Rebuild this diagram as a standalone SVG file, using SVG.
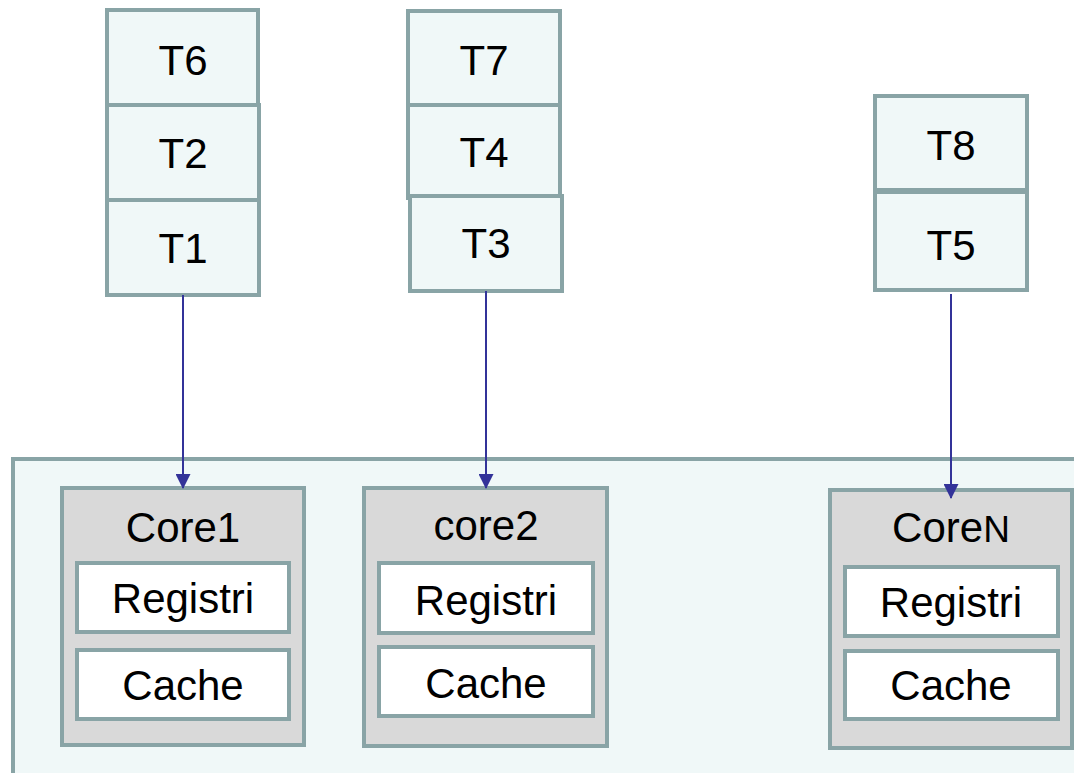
<svg xmlns="http://www.w3.org/2000/svg" width="1074" height="773" viewBox="0 0 1074 773">
<style>
.t{fill:#f0f8f8;stroke:#89a4a6;stroke-width:4}
.core{fill:#d9d9d9;stroke:#89a4a6;stroke-width:4}
.in{fill:#ffffff;stroke:#89a4a6;stroke-width:4}
text{font-family:"Liberation Sans",Arial,sans-serif;font-size:42px;fill:#000;text-anchor:middle}
.c{stroke:#333399;stroke-width:2;fill:none}
</style>
<defs>
<marker id="ah" markerWidth="15" markerHeight="15" refX="14" refY="7.5" orient="auto" markerUnits="userSpaceOnUse">
<path d="M0,0 L15,7.5 L0,15 Z" fill="#333399"/>
</marker>
</defs>
<rect width="1074" height="773" fill="#ffffff"/>
<g id="system"><rect class="t" x="13" y="459" width="1070" height="330"/></g>
<g id="T6"><rect class="t" x="107" y="10" width="151" height="95"/><text x="183" y="75">T6</text></g>
<g id="T2"><rect class="t" x="107" y="105" width="152" height="95"/><text x="183" y="168">T2</text></g>
<g id="T1"><rect class="t" x="107" y="200" width="152" height="95"/><text x="183" y="263">T1</text></g>
<g id="T7"><rect class="t" x="408" y="11" width="152" height="94"/><text x="484" y="75">T7</text></g>
<g id="T4"><rect class="t" x="408" y="105" width="152" height="93"/><text x="484" y="167">T4</text></g>
<g id="T3"><rect class="t" x="410" y="196" width="152" height="95"/><text x="486" y="258">T3</text></g>
<g id="T8"><rect class="t" x="875" y="96" width="152" height="94"/><text x="951" y="160">T8</text></g>
<g id="T5"><rect class="t" x="875" y="192" width="152" height="98"/><text x="951" y="260">T5</text></g>
<g id="Core1">
<rect class="core" x="62" y="488" width="242" height="257"/><text x="183" y="542">Core1</text>
<rect class="in" x="77" y="563" width="212" height="69"/><text x="183" y="613">Registri</text>
<rect class="in" x="77" y="650" width="212" height="69"/><text x="183" y="700">Cache</text>
</g>
<g id="core2">
<rect class="core" x="364" y="488" width="243" height="258"/><text x="486" y="540">core2</text>
<rect class="in" x="379" y="563" width="214" height="70"/><text x="486" y="615">Registri</text>
<rect class="in" x="379" y="647" width="214" height="69"/><text x="486" y="698">Cache</text>
</g>
<g id="CoreN">
<rect class="core" x="830" y="490" width="242" height="258"/><text x="951" y="542">Core<tspan font-size="37">N</tspan></text>
<rect class="in" x="845" y="567" width="213" height="69"/><text x="951" y="617">Registri</text>
<rect class="in" x="845" y="651" width="213" height="68"/><text x="951" y="700">Cache</text>
</g>
<g id="connectors">
<line class="c" x1="183" y1="295" x2="183" y2="488" marker-end="url(#ah)"/>
<line class="c" x1="486" y1="291" x2="486" y2="488" marker-end="url(#ah)"/>
<line class="c" x1="951" y1="294" x2="951" y2="498" marker-end="url(#ah)"/>
</g>
</svg>
